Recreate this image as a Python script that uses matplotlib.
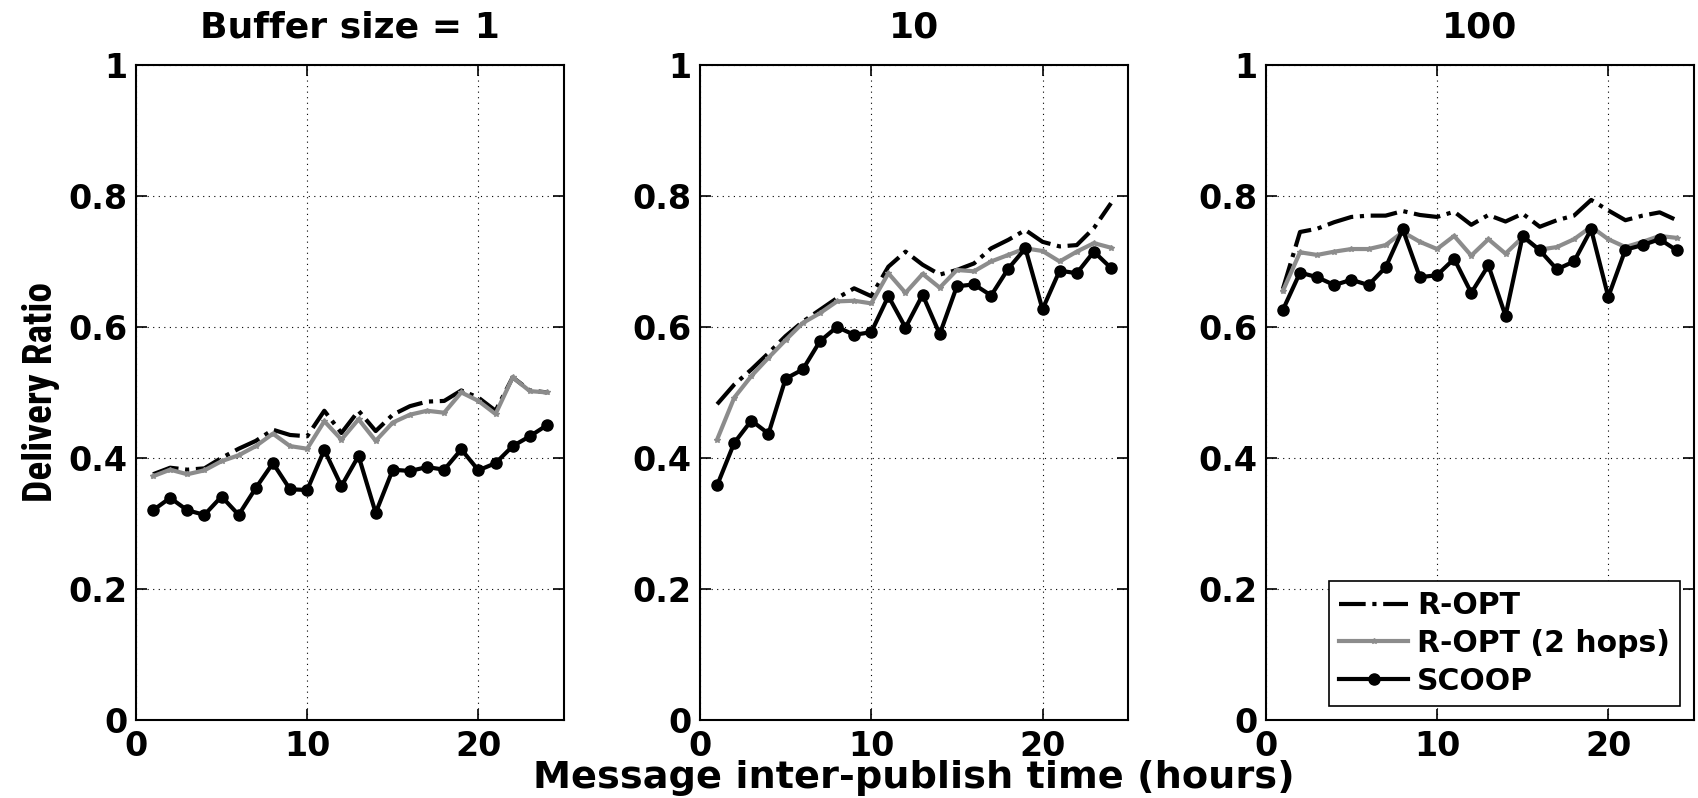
import matplotlib
matplotlib.use("Agg")
from matplotlib import pyplot as plt
from matplotlib import font_manager
from matplotlib.ticker import FuncFormatter

hours = list(range(1, 25))

# buffer size = 1
ropt_1 = [0.375, 0.385, 0.382, 0.384, 0.400, 0.414, 0.426, 0.443, 0.435, 0.433, 0.472, 0.438,
          0.472, 0.441, 0.466, 0.479, 0.486, 0.487, 0.503, 0.492, 0.472, 0.523, 0.503, 0.500]
ropt2_1 = [0.372, 0.382, 0.375, 0.381, 0.395, 0.404, 0.418, 0.437, 0.418, 0.414, 0.456, 0.428,
           0.459, 0.426, 0.454, 0.466, 0.472, 0.469, 0.500, 0.487, 0.467, 0.523, 0.502, 0.500]
scoop_1 = [0.320, 0.339, 0.320, 0.313, 0.341, 0.313, 0.354, 0.392, 0.352, 0.351, 0.412, 0.357,
           0.403, 0.316, 0.382, 0.380, 0.386, 0.382, 0.413, 0.381, 0.392, 0.418, 0.433, 0.450]

# buffer size = 10
ropt_10 = [0.482, 0.512, 0.535, 0.560, 0.586, 0.608, 0.626, 0.644, 0.659, 0.647, 0.692, 0.715,
           0.695, 0.680, 0.687, 0.697, 0.720, 0.733, 0.748, 0.730, 0.723, 0.725, 0.751, 0.789]
ropt2_10 = [0.428, 0.492, 0.525, 0.553, 0.580, 0.606, 0.621, 0.639, 0.640, 0.636, 0.682, 0.652,
            0.681, 0.660, 0.687, 0.685, 0.700, 0.710, 0.720, 0.716, 0.700, 0.715, 0.728, 0.721]
scoop_10 = [0.358, 0.423, 0.457, 0.437, 0.521, 0.535, 0.578, 0.600, 0.588, 0.592, 0.647, 0.599,
            0.649, 0.589, 0.662, 0.665, 0.648, 0.689, 0.720, 0.627, 0.686, 0.682, 0.715, 0.690]

# buffer size = 100
ropt_100 = [0.658, 0.745, 0.750, 0.760, 0.768, 0.770, 0.770, 0.777, 0.771, 0.768, 0.776, 0.756,
            0.771, 0.761, 0.773, 0.753, 0.763, 0.770, 0.794, 0.778, 0.763, 0.770, 0.775, 0.763]
ropt2_100 = [0.655, 0.714, 0.710, 0.715, 0.719, 0.719, 0.725, 0.745, 0.730, 0.719, 0.739, 0.709,
             0.734, 0.712, 0.737, 0.718, 0.722, 0.734, 0.753, 0.734, 0.722, 0.730, 0.739, 0.736]
scoop_100 = [0.626, 0.683, 0.676, 0.664, 0.672, 0.664, 0.691, 0.749, 0.676, 0.679, 0.704, 0.652,
             0.694, 0.617, 0.739, 0.717, 0.688, 0.700, 0.749, 0.646, 0.718, 0.725, 0.734, 0.717]

titles = ["Buffer size = 1", "10", "100"]
series = [(ropt_1, ropt2_1, scoop_1), (ropt_10, ropt2_10, scoop_10), (ropt_100, ropt2_100, scoop_100)]

# condensed face for the y label, if one is installed
installed = {f.name for f in font_manager.fontManager.ttflist}
ylab_font = ["DejaVu Sans"]
for name in ["Liberation Sans Narrow", "DejaVu Sans Condensed", "Roboto Condensed", "Open Sans Condensed"]:
    if name in installed:
        ylab_font = [name, "DejaVu Sans"]
        break

wide = ["DejaVu Sans"]

fig = plt.figure(figsize=(16.99, 7.98), dpi=100)
lefts = [0.080, 0.412, 0.745]
width = 0.252
bottom, top = 0.098, 0.9185

gray = "#8c8c8c"
for i in range(3):
    ax = fig.add_axes([lefts[i], bottom, width, top - bottom])
    ropt, ropt2, scoop = series[i]
    ax.plot(hours, ropt, color="black", linestyle="-.", linewidth=3, label="R-OPT")
    ax.plot(hours, ropt2, color=gray, linestyle="-", linewidth=3, marker="*", markersize=4,
            label="R-OPT (2 hops)")
    ax.plot(hours, scoop, color="black", linestyle="-", linewidth=3, marker="o", markersize=8,
            markerfacecolor="black", label="SCOOP")
    ax.set_xlim(0, 25)
    ax.set_ylim(0, 1)
    ax.set_xticks([0, 10, 20])
    ax.set_yticks([0, 0.2, 0.4, 0.6, 0.8, 1])
    ax.yaxis.set_major_formatter(FuncFormatter(lambda v, p: "%g" % v))
    ax.grid(True, color="black", linestyle=(0, (1, 4)), linewidth=0.8)
    ax.tick_params(direction="in", length=8, width=1.2, top=True, right=True)
    ax.tick_params(axis="y", pad=6)
    ax.tick_params(axis="x", pad=7)
    for lab in ax.get_xticklabels() + ax.get_yticklabels():
        lab.set_family(wide)
        lab.set_fontweight("bold")
        lab.set_fontsize(24)
    for s in ax.spines.values():
        s.set_linewidth(1.5)
    ax.set_title(titles[i], family=wide, fontweight="bold", fontsize=26, pad=20)
    if i == 2:
        leg = ax.legend(loc="lower right", fancybox=False, edgecolor="black", framealpha=1,
                        prop={"family": wide, "weight": "bold", "size": 21.5},
                        handlelength=2.3, handletextpad=0.3, labelspacing=0.3,
                        borderaxespad=0.45, borderpad=0.35)
        leg.get_frame().set_linewidth(1.2)

fig.text(0.538, 0.012, "Message inter-publish time (hours)", ha="center", va="baseline",
         family=wide, fontweight="bold", fontsize=27.5)
ylab = fig.text(0.024, 0.509, "Delivery Ratio", rotation=90, ha="center", va="center",
                family=ylab_font, fontstretch="condensed", fontweight="bold", fontsize=24)

# scale the y label so it runs about 220 px along the axis
fig.canvas.draw()
ext = ylab.get_window_extent()
ylab.set_fontsize(24 * 220.0 / ext.height)

fig.savefig("out.png", dpi=100)
